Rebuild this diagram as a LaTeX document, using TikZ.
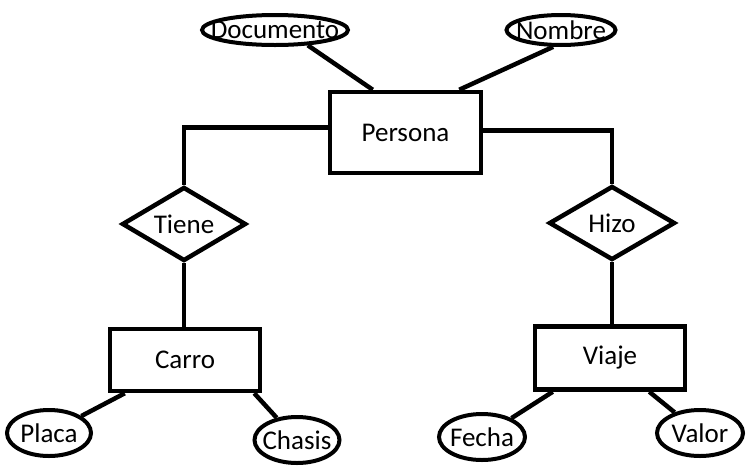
\documentclass[tikz,border=0pt]{standalone}
\usepackage{fontspec}
\setmainfont{Carlito}
\usepackage{tikz}
\usetikzlibrary{shapes.geometric}

\begin{document}
\begin{tikzpicture}[x=1pt,y=-1pt]
		\tikzstyle{entidad} = [draw, line width=4.5pt, rectangle, font=\fontsize{27}{32}\selectfont]
		\tikzstyle{relacion} = [draw, line width=4.5pt, diamond, shape aspect=1.7, inner sep=0pt, font=\fontsize{27}{32}\selectfont]
		\tikzstyle{atributo} = [draw, line width=4pt, ellipse, inner sep=0pt, font=\fontsize{27}{32}\selectfont]
		\tikzstyle{linea} = [line width=4.5pt]
		\useasboundingbox (0,0) rectangle (749,469);

		\node[entidad, minimum width=151pt, minimum height=81pt] (persona) at (405.5,132.5) {Persona};
		\node[atributo, minimum width=146pt, minimum height=30pt] (documento) at (275,30) {\makebox[0pt]{Documento}};
		\node[atributo, minimum width=109pt, minimum height=30pt] (nombre) at (561,30) {\makebox[0pt]{Nombre}};

		\node[relacion, minimum width=124pt, minimum height=74pt] (tiene) at (184,224) {Tiene};
		\node[relacion, minimum width=126pt, minimum height=74pt] (hizo) at (612,223) {Hizo};

		\node[entidad, minimum width=150pt, minimum height=62pt] (carro) at (185,360) {Carro};
		\node[entidad, minimum width=150pt, minimum height=63pt] (viaje) at (610,358) {Viaje};

		\node[atributo, minimum width=84pt, minimum height=46pt] (placa) at (49,433) {\makebox[0pt]{Placa}};
		\node[atributo, minimum width=85pt, minimum height=46pt] (chasis) at (297,440) {\makebox[0pt]{Chasis}};
		\node[atributo, minimum width=86pt, minimum height=46pt] (fecha) at (482,437) {\makebox[0pt]{Fecha}};
		\node[atributo, minimum width=86pt, minimum height=46pt] (valor) at (700,433) {\makebox[0pt]{Valor}};

		\draw [linea] (documento.-25) -- ([xshift=45pt]persona.north west);
		\draw [linea] (nombre.-115) -- ([xshift=-24pt]persona.north east);

		\draw [linea] ([yshift=5pt]persona.west) -| (tiene.north);
		\draw [linea] ([yshift=2pt]persona.east) -| (hizo.north);

		\draw [linea] (tiene.south) -- (tiene.south |- carro.north);
		\draw [linea] (hizo.south) -- (hizo.south |- viaje.north);

		\draw [linea] (placa) -- ([xshift=17pt]carro.south west);
		\draw [linea] (chasis) -- ([xshift=-8pt]carro.south east);
		\draw [linea] (fecha) -- ([xshift=20pt]viaje.south west);
		\draw [linea] (valor) -- ([xshift=-38pt]viaje.south east);

		\end{tikzpicture}
\end{document}
